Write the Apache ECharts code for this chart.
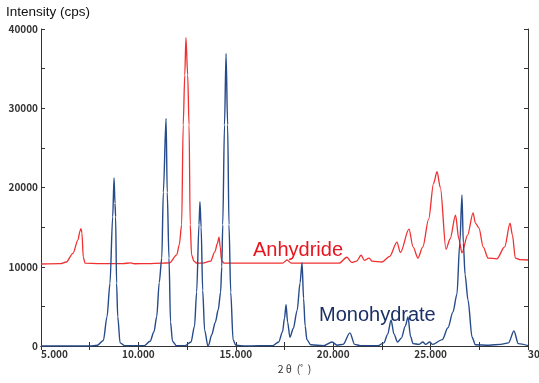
<!DOCTYPE html>
<html>
<head>
<meta charset="utf-8">
<script src="https://cdn.jsdelivr.net/npm/echarts@6/dist/echarts.min.js"></script>
<style>
html,body{margin:0;padding:0;background:#fff;}
#c{width:539px;height:383px;}
</style>
</head>
<body>
<div id="c"></div>
<script>
// 2θ (deg), intensity (cps)
var anhydride = [
  [5.0,10350],[6.0,10400],[6.3,10600],[6.64,11700],[6.9,13400],[7.0,14500],[7.05,14800],[7.1,14300],[7.17,11200],[7.26,10450],
  [8.0,10400],[9.2,10400],[9.6,10480],[9.8,10380],[10.5,10400],[11.2,10450],[11.6,10500],[11.97,11500],[12.1,12800],[12.22,15300],
  [12.3,27900],[12.38,34200],[12.44,38900],[12.53,34200],[12.6,27900],[12.66,15300],[12.73,11500],[12.85,10700],[13.0,10450],
  [13.3,10450],[13.7,10700],[13.93,11900],[14.05,12900],[14.14,13750],[14.2,12500],[14.27,10800],[14.4,10450],
  [17.4,10450],[17.63,10850],[17.85,10450],[20.3,10450],[20.7,11200],[20.95,10550],[21.2,10700],[21.43,11450],[21.6,10800],
  [21.84,11100],[22.0,10700],[22.5,10600],[22.9,11300],[23.27,13100],[23.45,11800],[23.89,14750],[24.1,12500],[24.35,11100],
  [24.6,12500],[24.9,16000],[25.15,20500],[25.33,22000],[25.5,20000],[25.79,12200],[26.0,13500],[26.28,16500],[26.45,13500],
  [26.61,11750],[26.9,14000],[27.18,16800],[27.3,15500],[27.48,14900],[27.7,12500],[27.95,11100],[28.4,11000],[28.8,12500],
  [29.08,15500],[29.2,14000],[29.35,11100],[29.6,10900],[30.0,10850]
];
var monohydrate = [
  [5.0,0],[7.5,0],[7.9,100],[8.2,700],[8.39,3700],[8.54,7900],[8.68,16300],[8.75,21200],[8.8,18000],[8.83,16300],[8.88,7900],
  [8.94,3700],[9.06,400],[9.3,50],[10.3,50],[10.6,600],[10.8,1800],[10.94,3700],[11.07,8000],[11.2,11100],[11.28,19400],[11.42,28700],
  [11.48,19400],[11.57,11100],[11.65,3000],[11.75,600],[11.95,50],[12.4,50],[12.7,500],[12.88,2500],[12.99,6800],[13.11,15300],
  [13.16,18200],[13.22,15000],[13.3,7000],[13.4,2000],[13.57,0],[13.6,100],[13.76,1400],[13.95,3000],[14.1,4600],[14.22,6800],
  [14.28,10000],[14.33,15300],[14.42,27900],[14.5,36900],[14.58,27900],[14.65,15300],[14.74,6800],[14.86,800],[15.0,100],[15.5,0],
  [16.9,50],[17.2,500],[17.4,1800],[17.5,3500],[17.58,5200],[17.66,3000],[17.78,1100],[17.95,2200],[18.15,4500],[18.3,8000],
  [18.4,10500],[18.48,6000],[18.56,2500],[18.65,800],[18.85,150],[19.5,50],[19.94,500],[20.2,100],[20.5,200],[20.86,1650],
  [21.1,200],[21.4,50],[22.3,50],[22.6,400],[22.8,1500],[22.97,3300],[23.12,1500],[23.3,500],[23.5,1000],[23.7,2500],[23.84,3650],
  [23.97,1200],[24.1,300],[24.4,200],[24.6,500],[24.75,200],[24.95,500],[25.1,200],[25.6,800],[25.89,2300],[26.15,4300],
  [26.35,6500],[26.5,13000],[26.61,19060],[26.68,13000],[26.77,9000],[26.92,5800],[27.13,1100],[27.3,150],[28.0,100],[28.6,200],
  [29.0,400],[29.28,1900],[29.5,300],[30.0,50]
];
var seriesNames = ['Anhydride', 'Monohydrate'];
var yTitle = 'Intensity (cps)';
var xTitle = '2 θ  (ﾟ )';

var chart = echarts.init(document.getElementById('c'), null, {renderer:'canvas'});
var labelFont = {fontFamily:'Noto Sans CJK JP', fontSize:10, fontWeight:'bold', color:'#333'};
var axisLineStyle = {show:true, lineStyle:{color:'#333', width:1}};
var tickStyle = {show:true, inside:true, length:4, lineStyle:{color:'#333'}};
chart.setOption({
  animation:false,
  backgroundColor:'#fff',
  grid:{left:41, right:11, top:29, bottom:37, containLabel:false, outerBoundsMode:'none'},
  graphic:[
    {type:'text', left:6, top:5, style:{text:yTitle, fontFamily:'Liberation Sans, Arial', fontSize:13.5, fill:'#111'}},
    {type:'text', x:253, y:240, style:{text:seriesNames[0], fontFamily:'Liberation Sans, Arial', fontSize:20, fill:'#e8141e', textVerticalAlign:'alphabetic'}},
    {type:'text', x:319, y:305, style:{text:seriesNames[1], fontFamily:'Liberation Sans, Arial', fontSize:20, fill:'#1c2f66', textVerticalAlign:'alphabetic'}}
  ],
  xAxis:[
    {type:'value', min:5, max:30, interval:2.5, position:'bottom',
     axisLine:axisLineStyle, axisTick:tickStyle, splitLine:{show:false},
     axisLabel:Object.assign({margin:3, alignMinLabel:'left', alignMaxLabel:'left', hideOverlap:false,
       formatter:function(v){return (Math.abs(v%5)<1e-9)? v.toFixed(3):'';}}, labelFont),
     name:xTitle, nameLocation:'middle', nameGap:18,
     nameTextStyle:{fontFamily:'Noto Sans CJK JP', fontSize:10.5, color:'#333', padding:[0,0,0,20]}},
    {type:'value', min:5, max:30, interval:2.5, position:'top',
     axisLine:axisLineStyle, axisTick:tickStyle, splitLine:{show:false}, axisLabel:{show:false}}
  ],
  yAxis:[
    {type:'value', min:0, max:40000, interval:5000, position:'left',
     axisLine:axisLineStyle, axisTick:tickStyle, splitLine:{show:false},
     axisLabel:Object.assign({margin:3, formatter:function(v){return v%10000===0? String(v):'';}}, labelFont)},
    {type:'value', min:0, max:40000, interval:5000, position:'right',
     axisLine:axisLineStyle, axisTick:tickStyle, splitLine:{show:false}, axisLabel:{show:false}}
  ],
  series:[
    {name:seriesNames[0], type:'line', data:anhydride, showSymbol:false, smooth:0.3, smoothMonotone:'x',
     lineStyle:{color:'#f03030', width:1.3}, clip:true, z:2},
    {name:seriesNames[1], type:'line', data:monohydrate, showSymbol:false, smooth:0.3, smoothMonotone:'x',
     lineStyle:{color:'#264a8a', width:1.4}, clip:true, z:3}
  ]
});
</script>
</body>
</html>
